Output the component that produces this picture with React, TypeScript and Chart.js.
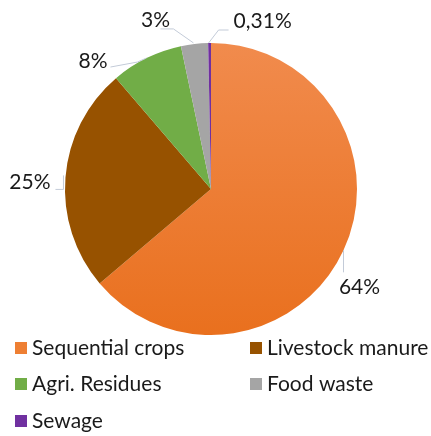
import React, { useEffect, useRef } from "react";
import { Chart, registerables } from "chart.js";

Chart.register(...registerables);

const categories = ["Sequential crops", "Livestock manure", "Agri. Residues", "Food waste", "Sewage"];
const shares = [64, 25, 8, 3, 0.31];
const shareLabels = ["64%", "25%", "8%", "3%", "0,31%"];

const sliceColors = ["#EE7F33", "#975200", "#71AD47", "#A5A5A5", "#7030A0"];
const FONT = "Lato, 'Liberation Sans', sans-serif";

// leader line layouts relative to the slice's outer mid-point (style only)
const leaderPaths: number[][][] = [
  [[0, 0], [0, 22]],
  [[-2, -2], [-2, 12], [-10, 12]],
  [[0, 0], [-9, 4], [-36, 9]],
  [[-1, -1], [-21, -15], [-34, -15]],
  [[-1, 0], [9, -13], [19, -13]],
];
const labelOffsets: { dx: number; dy: number; align: CanvasTextAlign }[] = [
  { dx: 16, dy: 44, align: "center" },
  { dx: -15, dy: 12, align: "right" },
  { dx: -39, dy: 10, align: "right" },
  { dx: -39, dy: -17, align: "center" },
  { dx: 24, dy: -15, align: "left" },
];
const legendSlots = [
  { x: 15, y: 348 },
  { x: 250, y: 348 },
  { x: 15, y: 384 },
  { x: 250, y: 384 },
  { x: 15, y: 421 },
];

const outsideLabels = {
  id: "outsideLabels",
  afterDraw(chart: any) {
    const ctx: CanvasRenderingContext2D = chart.ctx;
    const meta = chart.getDatasetMeta(0);
    ctx.save();
    meta.data.forEach((arc: any, i: number) => {
      const mid = (arc.startAngle + arc.endAngle) / 2;
      const ax = arc.x + Math.cos(mid) * arc.outerRadius;
      const ay = arc.y + Math.sin(mid) * arc.outerRadius;
      const path = leaderPaths[i];
      ctx.strokeStyle = "#C3CBD8";
      ctx.lineWidth = 1;
      ctx.beginPath();
      path.forEach((p, k) => {
        if (k === 0) ctx.moveTo(ax + p[0], ay + p[1]);
        else ctx.lineTo(ax + p[0], ay + p[1]);
      });
      ctx.stroke();
      const lo = labelOffsets[i];
      ctx.fillStyle = "#1A1A1A";
      ctx.font = `21px ${FONT}`;
      ctx.textAlign = lo.align;
      ctx.textBaseline = "alphabetic";
      ctx.fillText(shareLabels[i], ax + lo.dx, ay + lo.dy);
    });
    // legend
    categories.forEach((name, i) => {
      const s = legendSlots[i];
      ctx.fillStyle = sliceColors[i];
      ctx.fillRect(s.x, s.y - 6, 12, 12);
      ctx.fillStyle = "#1A1A1A";
      ctx.font = `21px ${FONT}`;
      ctx.textAlign = "left";
      ctx.textBaseline = "alphabetic";
      ctx.fillText(name, s.x + 17, s.y + 7);
    });
    ctx.restore();
  },
};

export default function App() {
  const ref = useRef<HTMLCanvasElement | null>(null);
  useEffect(() => {
    if (!ref.current) return;
    const chart = new Chart(ref.current, {
      type: "pie",
      data: {
        labels: categories,
        datasets: [
          {
            data: shares,
            backgroundColor: (c: any) => {
              if (c.dataIndex === 0 && c.chart.chartArea) {
                const a = c.chart.chartArea;
                const g = c.chart.ctx.createLinearGradient(0, a.top, 0, a.bottom);
                g.addColorStop(0, "#F18B4D");
                g.addColorStop(1, "#E9701E");
                return g;
              }
              return sliceColors[c.dataIndex];
            },
            borderWidth: 0,
          },
        ],
      },
      options: {
        animation: false,
        responsive: false,
        layout: { padding: { top: 43, bottom: 101, left: 65, right: 74 } },
        plugins: {
          legend: { display: false },
          tooltip: { enabled: false },
        },
      },
      plugins: [outsideLabels],
    });
    return () => chart.destroy();
  }, []);
  return (
    <div style={{ position: "absolute", left: 0, top: 0, width: 431, height: 436, background: "#fff" }}>
      <canvas ref={ref} width={431} height={436} style={{ width: 431, height: 436 }} />
    </div>
  );
}
